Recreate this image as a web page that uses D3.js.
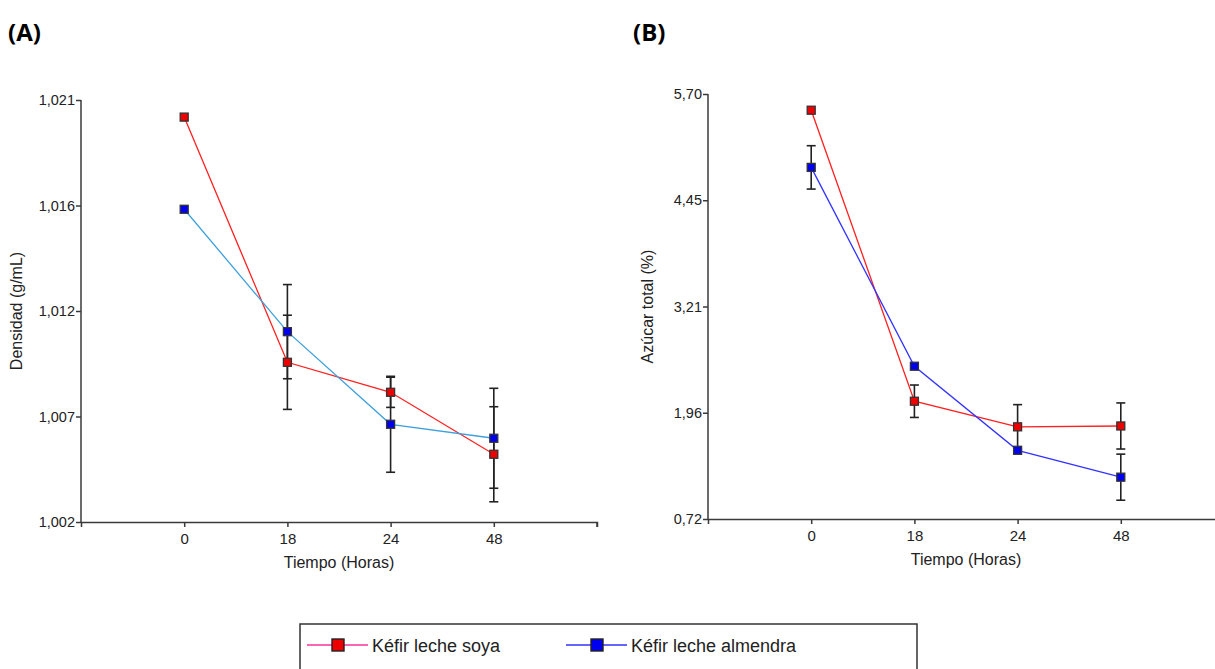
<!DOCTYPE html>
<html>
<head>
<meta charset="utf-8">
<script src="https://cdn.jsdelivr.net/npm/d3@7"></script>
<style>
html,body{margin:0;padding:0;background:#fff;overflow:hidden;}
svg{display:block;font-family:"Liberation Sans",Arial,sans-serif;}
</style>
</head>
<body>
<svg id="chart" width="1215" height="669"></svg>
<script>
// ---- data ----
const categories = ["0", "18", "24", "48"];
const seriesNames = ["Kéfir leche soya", "Kéfir leche almendra"];

// Panel A: Densidad (g/mL)
const densSoya = [1.02023, 1.00919, 1.00784, 1.00505];
const densSoyaErr = [0, 0.00212, 0.00068, 0.00214];
const densAlm = [1.01608, 1.01057, 1.00640, 1.00577];
const densAlmErr = [0, 0.00212, 0.00216, 0.00225];
const densTicks = [1.002, 1.00675, 1.0115, 1.01625, 1.021];
const densTickLabels = ["1,002", "1,007", "1,012", "1,016", "1,021"];

// Panel B: Azúcar total (%)
const sugSoya = [5.51, 2.10, 1.80, 1.81];
const sugSoyaErr = [0, 0.19, 0.26, 0.27];
const sugAlm = [4.84, 2.51, 1.525, 1.21];
const sugAlmErr = [0.254, 0, 0, 0.27];
const sugTicks = [0.72, 1.965, 3.21, 4.455, 5.70];
const sugTickLabels = ["0,72", "1,96", "3,21", "4,45", "5,70"];

const svg = d3.select("#chart");
const axisColor = "#3a3a3a";

function panel(opts) {
  const g = svg.append("g");
  const x = d3.scalePoint().domain(categories).range([opts.x0, opts.x1]).padding(1);
  const y = d3.scaleLinear().domain([opts.ticks[0], opts.ticks[opts.ticks.length - 1]]).range([opts.y0, opts.y1]);

  const yAxis = d3.axisLeft(y).tickValues(opts.ticks)
    .tickFormat((d, i) => opts.tickLabels[i]).tickSizeOuter(0).tickSize(5).tickPadding(1);
  const ya = g.append("g").attr("transform", `translate(${opts.x0},0)`).call(yAxis);
  const xAxis = d3.axisBottom(x).tickSizeOuter(0).tickSize(5).tickPadding(6);
  const xa = g.append("g").attr("transform", `translate(0,${opts.y0})`).call(xAxis);
  xa.append("line").attr("x1", opts.x1).attr("x2", opts.x1).attr("y1", 0).attr("y2", 5);
  [ya, xa].forEach(a => {
    a.selectAll("path").attr("stroke", axisColor).attr("stroke-width", 1.5);
    a.selectAll("line").attr("stroke", axisColor).attr("stroke-width", 1.5);
  });
  ya.selectAll("text").attr("fill", "#222").style("font-size", "14.5px");
  xa.selectAll("text").attr("fill", "#222").style("font-size", "15px");
  ya.select(".domain").attr("d", `M0,${opts.y0}V${opts.y1}`);

  // axis titles
  g.append("text").attr("x", (opts.x0 + opts.x1) / 2).attr("y", opts.y0 + 46)
    .attr("text-anchor", "middle").attr("fill", "#222").style("font-size", "16px").text("Tiempo (Horas)");
  g.append("text").attr("transform", `translate(${opts.yTitleX},${(opts.y0 + opts.y1) / 2}) rotate(-90)`)
    .attr("text-anchor", "middle").attr("fill", "#222").style("font-size", "16px").text(opts.yTitle);

  // panel label
  g.append("text").attr("x", opts.labelX).attr("y", 41).attr("fill", "#000")
    .style("font-size", "24px").style("font-weight", "bold")
    .style("font-family", "'Open Sans','Liberation Sans',Arial,sans-serif").text(opts.label);

  const series = [
    {vals: opts.soya, err: opts.soyaErr, line: "#ff2020", fill: "#ee0000"},
    {vals: opts.alm, err: opts.almErr, line: opts.almLine, fill: "#0000ee"}
  ];
  const line = d3.line().x((d, i) => x(categories[i])).y(d => y(d));
  series.forEach(s => {
    g.append("path").datum(s.vals).attr("d", line).attr("fill", "none")
      .attr("stroke", s.line).attr("stroke-width", 1.3);
  });
  series.forEach(s => {
    s.vals.forEach((v, i) => {
      const e = s.err[i];
      if (!e) return;
      const cx = x(categories[i]);
      const eg = g.append("g").attr("stroke", "#222").attr("stroke-width", 1.6);
      eg.append("line").attr("x1", cx).attr("x2", cx).attr("y1", y(v + e)).attr("y2", y(v - e));
      [v + e, v - e].forEach(t => eg.append("line").attr("x1", cx - 4.5).attr("x2", cx + 4.5)
        .attr("y1", y(t)).attr("y2", y(t)));
    });
  });
  series.forEach(s => {
    g.selectAll(null).data(s.vals).enter().append("rect")
      .attr("x", (d, i) => x(categories[i]) - 4).attr("y", d => y(d) - 4)
      .attr("width", 8).attr("height", 8).attr("fill", s.fill)
      .attr("stroke", "#333").attr("stroke-width", 1.3);
  });
}

panel({x0: 81, x1: 597, y0: 522, y1: 100, ticks: densTicks, tickLabels: densTickLabels,
  soya: densSoya, soyaErr: densSoyaErr, alm: densAlm, almErr: densAlmErr, almLine: "#3ea0dc",
  yTitle: "Densidad (g/mL)", yTitleX: 22, label: "(A)", labelX: 8});
panel({x0: 708, x1: 1224, y0: 519, y1: 94, ticks: sugTicks, tickLabels: sugTickLabels,
  soya: sugSoya, soyaErr: sugSoyaErr, alm: sugAlm, almErr: sugAlmErr, almLine: "#3333ff",
  yTitle: "Azúcar total (%)", yTitleX: 653, label: "(B)", labelX: 633});

// legend
const lg = svg.append("g");
lg.append("rect").attr("x", 300).attr("y", 624).attr("width", 617).attr("height", 60)
  .attr("fill", "#fff").attr("stroke", "#333").attr("stroke-width", 1.5);
const legendItems = [
  {name: seriesNames[0], line: "#ff3399", fill: "#ee0000", x: 307},
  {name: seriesNames[1], line: "#3333ff", fill: "#0000ee", x: 566}
];
legendItems.forEach(it => {
  lg.append("line").attr("x1", it.x).attr("x2", it.x + 61).attr("y1", 645).attr("y2", 645)
    .attr("stroke", it.line).attr("stroke-width", 1.5);
  lg.append("rect").attr("x", it.x + 25).attr("y", 639).attr("width", 12).attr("height", 12)
    .attr("fill", it.fill).attr("stroke", "#222").attr("stroke-width", 1.4);
  lg.append("text").attr("x", it.x + 65).attr("y", 651.5).attr("fill", "#222")
    .style("font-size", "18px").text(it.name);
});
</script>
</body>
</html>
